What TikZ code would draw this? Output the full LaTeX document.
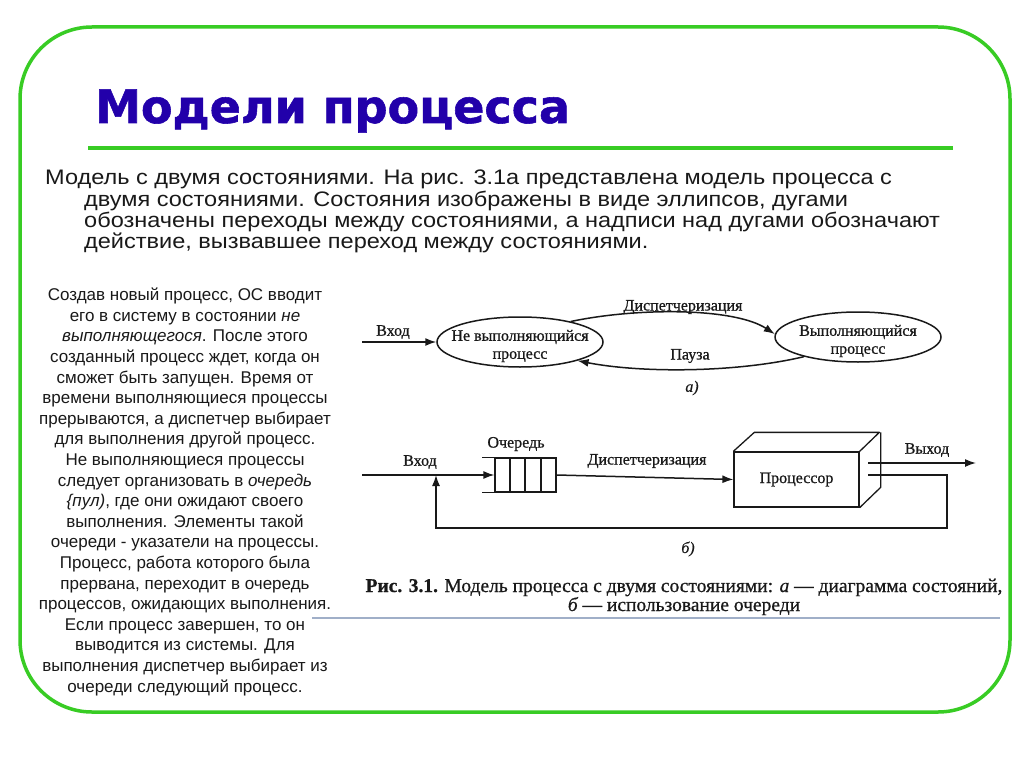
\documentclass[tikz,border=0pt]{standalone}
\usepackage{fontspec}
\setmainfont{Liberation Sans}
\newfontfamily\bodyfont[FakeStretch=1.12]{Liberation Sans}
\newfontfamily\titlefont[FakeBold=1.2]{DejaVu Sans Bold}
\newfontfamily\scanfont[FakeBold=0.8]{Liberation Serif}
\newfontfamily\scanbold[FakeBold=0.8]{Liberation Serif Bold}
\newfontfamily\scanit[FakeBold=0.6]{Liberation Serif Italic}
\usetikzlibrary{shapes.geometric,arrows.meta}
\definecolor{framegreen}{RGB}{56,204,36}
\definecolor{titleblue}{RGB}{34,0,170}
\definecolor{rulegrey}{RGB}{160,175,200}
\definecolor{ink}{RGB}{25,25,25}
\tikzset{
  frame/.style={draw=framegreen,line width=3.5pt,rounded corners=72pt},
  lbl/.style={font=\scanfont\fontsize{16}{16}\selectfont,text=ink,inner sep=0},
  stateell/.style={ellipse,draw=ink,line width=1.5pt,minimum width=166pt,minimum height=50pt,inner sep=0},
  statetxt/.style={lbl,align=center,font=\scanfont\fontsize{16}{18}\selectfont},
  wire/.style={draw=ink,line width=1.5pt},
  arr/.style={wire,-{Latex[length=11pt,width=8pt]}},
  boxface/.style={draw=ink,line width=1.3pt}
}
\begin{document}
\begin{tikzpicture}[x=1pt,y=-1pt]
\useasboundingbox (0,0) rectangle (1024,767);
\fill[white] (0,0) rectangle (1024,767);
\draw[frame] (20,27) rectangle (1010,712);
\draw[draw=framegreen,line width=4pt] (88,148) -- (953,148);
\node[anchor=base west,inner sep=0,text=titleblue,font=\titlefont\fontsize{46}{46}\selectfont] (title) at (95,123) {Модели процесса};
\node[anchor=base west,inner sep=0,align=left,font=\bodyfont\fontsize{21}{21}\selectfont,text=ink] (body) at (45,248)
 {Модель с двумя состояниями. На рис. 3.1а представлена модель процесса с\\
  \hspace*{39pt}двумя состояниями. Состояния изображены в виде эллипсов, дугами\\
  \hspace*{39pt}обозначены переходы между состояниями, а надписи над дугами обозначают\\
  \hspace*{39pt}действие, вызвавшее переход между состояниями.};
\node[anchor=base,inner sep=0,align=center,font=\fontsize{17}{20.6}\selectfont,text=ink] (side) at (185,692)
 {Создав новый процесс, ОС вводит\\
  его в систему в состоянии \textit{не}\\
  \textit{выполняющегося}. После этого\\
  созданный процесс ждет, когда он\\
  сможет быть запущен. Время от\\
  времени выполняющиеся процессы\\
  прерываются, а диспетчер выбирает\\
  для выполнения другой процесс.\\
  Не выполняющиеся процессы\\
  следует организовать в \textit{очередь}\\
  \textit{\{пул)}, где они ожидают своего\\
  выполнения. Элементы такой\\
  очереди - указатели на процессы.\\
  Процесс, работа которого была\\
  прервана, переходит в очередь\\
  процессов, ожидающих выполнения.\\
  Если процесс завершен, то он\\
  выводится из системы. Для\\
  выполнения диспетчер выбирает из\\
  очереди следующий процесс.};
% diagram a
\node[stateell] (s1) at (520,342) {};
\node[statetxt] (s1t) at ([yshift=-4pt]s1.center) {Не выполняющийся\\процесс};
\node[stateell] (s2) at (858,337) {};
\node[statetxt] (s2t) at ([yshift=-4pt]s2.center) {Выполняющийся\\процесс};
\coordinate (ain) at (362,342);
\draw[arr] (ain) -- (s1.west);
\node[lbl] (lin) at (393,332) {Вход};
\draw[arr] (s1.22) .. controls (640,307) and (735,308) .. (s2.178);
\node[lbl] (ldisp) at (683,307) {Диспетчеризация};
\draw[arr] (s2.200) .. controls (735,373) and (640,373) .. (s1.-18);
\node[lbl] (lpause) at (690,356) {Пауза};
\node[lbl,font=\scanit\fontsize{16}{16}\selectfont] (la) at (692,388) {а)};
% diagram b
\coordinate (bin) at (362,475);
\coordinate (jn) at (436,475);
\node[draw=ink,line width=1.2pt,minimum width=61pt,minimum height=34pt,inner sep=0] (q) at (525.5,475) {};
\draw[boxface] (q.north west) ++(-12,0) -- (q.north west);
\draw[boxface] (q.south west) ++(-12,0) -- (q.south west);
\foreach \cx in {510,525,541} \draw[boxface] (\cx,458) -- (\cx,492);
\node[lbl] (lq) at (516,444) {Очередь};
\draw[arr] (bin) -- (q.west);
\node[lbl] (lin2) at (420,462) {Вход};
\node[draw=ink,line width=1.3pt,minimum width=125pt,minimum height=55pt,inner sep=0,font=\scanfont\fontsize{16}{16}\selectfont,text=ink] (p) at (796.5,479.5) {Процессор};
\draw[boxface,line join=round] (p.north west) -- ++(21,-19) -- ++(125,0) -- (p.north east);
\draw[boxface,line join=round] (p.north east) ++(21,-19) -- ++(0,55) -- (p.south east);
\draw[arr] (q.east) -- (p.west);
\node[lbl] (ldisp2) at (647,461) {Диспетчеризация};
\coordinate (pout) at (868,463);
\coordinate (bout) at (976,463);
\draw[arr] (pout) -- (bout);
\node[lbl] (lout) at (927,450) {Выход};
\coordinate (pfb) at (868,475);
\coordinate (fb1) at (947,475);
\coordinate (fb2) at (947,528);
\coordinate (fb3) at (436,528);
\draw[wire] (pfb) -- (fb1) -- (fb2) -- (fb3) -- (436,490);
\draw[arr] (fb3) -- (jn);
\node[lbl,font=\scanit\fontsize{16}{16}\selectfont] (lb) at (688,549) {б)};
% caption
\node[anchor=base,inner sep=0,font=\scanfont\fontsize{19.5}{19.5}\selectfont,text=ink] (cap1) at (684,592)
 {{\scanbold Рис. 3.1.} Модель процесса с двумя состояниями: {\scanit а} — диаграмма состояний,};
\node[anchor=base,inner sep=0,font=\scanfont\fontsize{19.5}{19.5}\selectfont,text=ink] (cap2) at (684,611)
 {{\scanit б} — использование очереди};
\draw[draw=rulegrey,line width=1.2pt] (312,618) -- (1000,618);
\end{tikzpicture}
\end{document}
